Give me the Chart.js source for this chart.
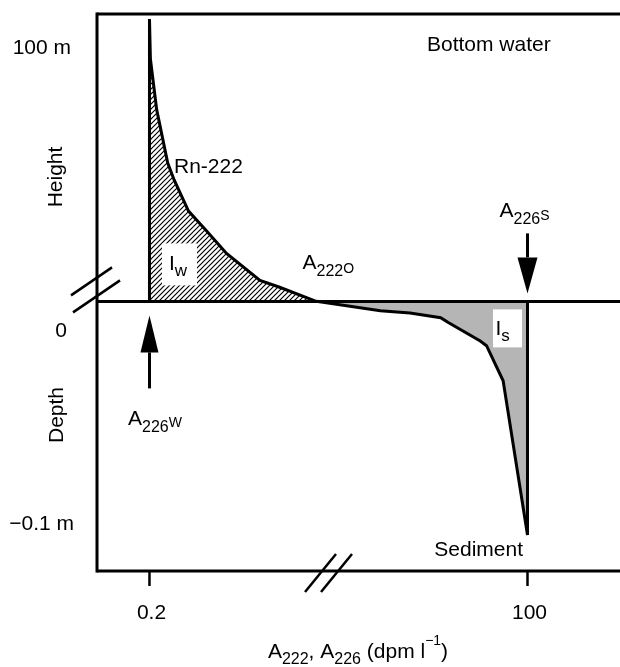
<!DOCTYPE html>
<html>
<head>
<meta charset="utf-8">
<script src="https://cdn.jsdelivr.net/npm/chart.js@4"></script>
<style>
  html, body { margin: 0; padding: 0; background: #fff; }
  #wrap { width: 620px; height: 667px; position: relative; }
</style>
</head>
<body>
<div id="wrap"><canvas id="chart"></canvas></div>
<script>
// ===== DATA =====
// Rn-222 in the bottom water: activity (dpm/l) vs height above the bed (m)
const waterActivity = [0.2, 0.2, 0.203, 0.225, 0.27, 0.30, 0.38, 0.51, 0.71, 1.23, 1.7, 3.1];
const waterHeight   = [0, 100, 86, 68, 49, 43, 32, 25, 17, 7.4, 5, 0];
// Rn-222 in the sediment: activity (dpm/l) vs depth (m)
const sedActivity = [3.1, 8.9, 14.5, 24, 27, 46, 51, 67, 100, 100];
const sedDepth    = [0, -0.004, -0.005, -0.007, -0.009, -0.017, -0.019, -0.034, -0.1, 0];
// axis ticks
const xTicks = [0.2, 100];
const xTickLabels = ['0.2', '100'];
const heightTickLabel = '100 m';
const depthTickLabels = ['0', '\u22120.1 m'];

const FONT = '"Liberation Sans", Arial, sans-serif';
const FS = 21;

// ===== helpers =====
function richText(ctx, parts, x, y, align) {
  // parts: [text, size, dy]
  let total = 0;
  parts.forEach(p => { ctx.font = p[1] + 'px ' + FONT; total += ctx.measureText(p[0]).width; });
  let cx = align === 'center' ? x - total / 2 : align === 'right' ? x - total : x;
  ctx.textAlign = 'left';
  ctx.textBaseline = 'alphabetic';
  parts.forEach(p => {
    ctx.font = p[1] + 'px ' + FONT;
    ctx.fillText(p[0], cx, y + (p[2] || 0));
    cx += ctx.measureText(p[0]).width;
  });
}

function seg(ctx, x1, y1, x2, y2) {
  ctx.beginPath();
  ctx.moveTo(x1, y1);
  ctx.lineTo(x2, y2);
  ctx.stroke();
}

function arrow(ctx, x, tipY, baseY, tailY, half) {
  seg(ctx, x, baseY, x, tailY);
  ctx.beginPath();
  ctx.moveTo(x, tipY);
  ctx.lineTo(x - half, baseY);
  ctx.lineTo(x + half, baseY);
  ctx.closePath();
  ctx.fill();
}

// ===== DECORATION PLUGIN =====
const decor = {
  id: 'decor',
  afterDatasetsDraw(chart) {
    const { ctx, chartArea: a, scales } = chart;
    const xs = scales.x, yH = scales.yH, yD = scales.yD;
    const zeroY = yH.getPixelForValue(0);
    const x02 = xs.getPixelForValue(xTicks[0]);
    const x100 = xs.getPixelForValue(xTicks[1]);

    ctx.save();
    ctx.strokeStyle = '#000';
    ctx.fillStyle = '#000';
    ctx.lineWidth = 3;
    ctx.lineCap = 'butt';

    // frame + sediment surface
    seg(ctx, a.left, a.top, a.right, a.top);
    seg(ctx, a.left, a.top - 1.5, a.left, a.bottom + 1.5);
    seg(ctx, a.left, a.bottom, a.right, a.bottom);
    seg(ctx, a.left, zeroY, a.right, zeroY);

    // axis breaks
    ctx.lineWidth = 2.5;
    seg(ctx, a.left - 26, zeroY - 6, a.left + 15, zeroY - 34);
    seg(ctx, a.left - 24, zeroY + 11, a.left + 23, zeroY - 21);
    seg(ctx, 305, a.bottom + 21, 336, a.bottom - 17);
    seg(ctx, 321, a.bottom + 21, 352, a.bottom - 17);

    // x ticks
    xTicks.forEach((v, i) => {
      const px = xs.getPixelForValue(v);
      seg(ctx, px, a.bottom, px, a.bottom + 15);
      ctx.font = FS + 'px ' + FONT;
      ctx.textAlign = 'center';
      ctx.textBaseline = 'alphabetic';
      ctx.fillText(xTickLabels[i], px + 2, a.bottom + 48);
    });

    // y labels
    ctx.textAlign = 'right';
    ctx.font = FS + 'px ' + FONT;
    ctx.fillText(heightTickLabel, 71, yH.getPixelForValue(100) + 35);
    ctx.fillText(depthTickLabels[0], 67, zeroY + 36);
    ctx.fillText(depthTickLabels[1], 74, yD.getPixelForValue(-0.1) - 5);

    ctx.save();
    ctx.translate(62, 177);
    ctx.rotate(-Math.PI / 2);
    ctx.textAlign = 'center';
    ctx.fillText('Height', 0, 0);
    ctx.restore();
    ctx.save();
    ctx.translate(63, 415);
    ctx.rotate(-Math.PI / 2);
    ctx.textAlign = 'center';
    ctx.fillText('Depth', 0, 0);
    ctx.restore();

    // x axis title
    richText(ctx, [['A', FS, 0], ['222', 16, 6], [', A', FS, 0], ['226', 16, 6],
                   [' (dpm l', FS, 0], ['\u22121', 14, -13], [')', FS, 0]], 358, 658, 'center');

    // region labels
    richText(ctx, [['Bottom water', FS, 0]], 427, 51, 'left');
    richText(ctx, [['Rn-222', FS, 0]], 174, 173, 'left');
    richText(ctx, [['Sediment', FS, 0]], 523, 556, 'right');
    richText(ctx, [['A', FS, 0], ['222', 16, 7], ['O', 14, 4]], x02 + 153, zeroY - 32, 'left');

    // I_w and I_s boxes
    ctx.fillStyle = '#fff';
    ctx.fillRect(x02 + 12.5, zeroY - 58, 35, 42);
    ctx.fillRect(x100 - 34.5, zeroY + 8, 29, 38);
    ctx.fillStyle = '#000';
    richText(ctx, [['I', FS, 0], ['w', 17, 6]], x02 + 19.5, zeroY - 31, 'left');
    richText(ctx, [['I', FS, 0], ['s', 17, 6]], x100 - 32, zeroY + 34, 'left');

    // arrows
    ctx.lineWidth = 3;
    arrow(ctx, x02, zeroY + 14, zeroY + 51, zeroY + 87, 9);
    richText(ctx, [['A', FS, 0], ['226', 16, 7], ['W', 14, 2]], x02 - 21.5, zeroY + 124, 'left');
    arrow(ctx, x100, zeroY - 8, zeroY - 44, zeroY - 68, 10);
    richText(ctx, [['A', FS, 0], ['226', 16, 7], ['S', 14, 3]], x100 - 28, zeroY - 84, 'left');

    ctx.restore();
  }
};

// ===== CHART =====
const canvas = document.getElementById('chart');
const ctx = canvas.getContext('2d');

// diagonal hatch for the water-column inventory
const tile = document.createElement('canvas');
tile.width = 5; tile.height = 5;
const t = tile.getContext('2d');
t.strokeStyle = '#000';
t.lineWidth = 1.2;
t.beginPath();
t.moveTo(-1, 6); t.lineTo(6, -1);
t.moveTo(-1, 1); t.lineTo(1, -1);
t.moveTo(4, 6); t.lineTo(6, 4);
t.stroke();
const hatch = ctx.createPattern(tile, 'repeat');

new Chart(ctx, {
  type: 'scatter',
  data: {
    datasets: [
      {
        label: 'Rn-222 water',
        data: waterActivity.map((v, i) => ({ x: v, y: waterHeight[i] })),
        yAxisID: 'yH',
        showLine: true,
        borderColor: '#000',
        borderWidth: 3,
        borderJoinStyle: 'miter',
        backgroundColor: hatch,
        fill: 'origin',
        pointRadius: 0,
        tension: 0
      },
      {
        label: 'Rn-222 sediment',
        data: sedActivity.map((v, i) => ({ x: v, y: sedDepth[i] })),
        yAxisID: 'yD',
        showLine: true,
        borderColor: '#000',
        borderWidth: 3,
        borderJoinStyle: 'miter',
        backgroundColor: '#b5b5b5',
        fill: 'origin',
        pointRadius: 0,
        tension: 0
      }
    ]
  },
  options: {
    responsive: true,
    maintainAspectRatio: false,
    animation: false,
    events: [],
    layout: { padding: { left: 97, top: 14, right: 0, bottom: 96 } },
    plugins: { legend: { display: false }, tooltip: { enabled: false } },
    scales: {
      x: { type: 'logarithmic', min: 0.0844, max: 457.6, display: false },
      y: { display: false },
      yH: { type: 'linear', min: -95.5, max: 101.8, display: false },
      yD: { type: 'linear', min: -0.1154, max: 0.12294, display: false }
    }
  },
  plugins: [decor]
});
</script>
</body>
</html>
